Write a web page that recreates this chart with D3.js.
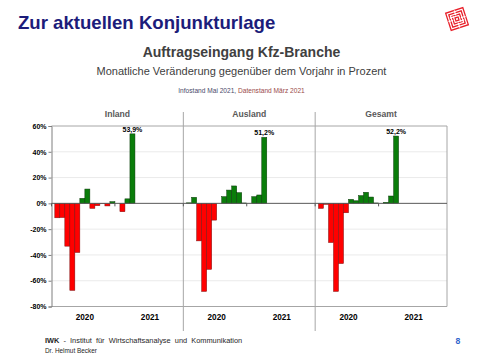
<!DOCTYPE html>
<html><head><meta charset="utf-8">
<script src="https://cdn.jsdelivr.net/npm/d3@7/dist/d3.min.js"></script>
<style>
html,body{margin:0;padding:0;background:#fff;}
svg{display:block;}
text{font-family:Arial,"Liberation Sans",sans-serif;}
</style></head>
<body>
<svg id="chart" width="480" height="360"></svg>
<script>
// ---- data ----
const panels = ["Inland", "Ausland", "Gesamt"];
const months = ["2020-01","2020-02","2020-03","2020-04","2020-05","2020-06","2020-07","2020-08","2020-09","2020-10","2020-11","2020-12","2021-01","2021-02","2021-03"];
const inland  = [-11.2, -11.0, -33.2, -67.5, -38.1, 3.9, 11.1, -3.9, -1.8, -0.3, -2.0, 1.3, -6.5, 3.5, 53.9];
const ausland = [0.4, 4.7, -29.1, -68.3, -51.2, -13.0, 0.0, 5.2, 10.3, 13.5, 8.3, 0.3, 5.2, 6.5, 51.2];
const gesamt  = [-3.9, -0.8, -30.4, -68.3, -46.7, -7.3, 3.1, 2.0, 6.0, 8.6, 4.9, 0.3, 0.8, 5.7, 52.2];
const years = ["2020", "2021"];
const yTicks = [60, 40, 20, 0, -20, -40, -60, -80];
const gridTicks = [40, 20, -20, -40, -60];

const seriesByPanel = [inland, ausland, gesamt];
// axis slots: 12 months of 2020, an empty separator slot, 12 months of 2021
const slots = [];
years.forEach((y, i) => {
  for (let m = 1; m <= 12; m++) slots.push(y + "-" + String(m).padStart(2, "0"));
  if (i === 0) slots.push("gap");
});

const svg = d3.select("#chart");

// ---- header ----
svg.append("text").attr("x", 18).attr("y", 29)
  .attr("font-size", 18.6).attr("font-weight", "bold").attr("fill", "#1c1c7a")
  .text("Zur aktuellen Konjunkturlage");

// logo
const logo = svg.append("g").attr("transform", "translate(457,19) rotate(-18)");
[9, 6.5, 4, 1.6].forEach(s => {
  logo.append("rect").attr("x", -s).attr("y", -s).attr("width", 2 * s).attr("height", 2 * s)
    .attr("fill", "none").attr("stroke", "#e8202a").attr("stroke-width", 1.3);
});
logo.append("path").attr("d", "M-9,0H-4M4,0H9M0,-9V-4M0,4V9M-6.5,-3H-2M2,3H6.5")
  .attr("stroke", "#fff").attr("stroke-width", 1.2);

svg.append("text").attr("x", 241.5).attr("y", 57).attr("text-anchor", "middle")
  .attr("font-family", "Lato, 'Open Sans', sans-serif").attr("font-weight", "bold")
  .attr("font-size", 14).attr("fill", "#404040").text("Auftragseingang Kfz-Branche");
svg.append("text").attr("x", 241.5).attr("y", 74.5).attr("text-anchor", "middle")
  .attr("font-family", "Lato, 'Open Sans', sans-serif")
  .attr("font-size", 11).attr("fill", "#404040")
  .text("Monatliche Veränderung gegenüber dem Vorjahr in Prozent");
const info = svg.append("text").attr("x", 241.5).attr("y", 92.5).attr("text-anchor", "middle")
  .attr("font-size", 6.6);
info.append("tspan").attr("fill", "#4a4a6a").text("Infostand Mai 2021, ");
info.append("tspan").attr("fill", "#9a4a4a").text("Datenstand März 2021");

// ---- chart frame ----
const L = 51.5, R = 447, T = 126, B = 306.5;
const PW = (R - L) / panels.length;
const y = d3.scaleLinear().domain([-80, 60]).range([B, T]);
const panelX = d3.scaleBand().domain(panels).range([L, R]);
const x = d3.scaleBand().domain(slots).range([0, PW]).paddingInner(0).paddingOuter(0.66);

// grid lines
svg.append("g").selectAll("line").data(gridTicks).join("line")
  .attr("x1", L).attr("x2", R).attr("y1", d => y(d)).attr("y2", d => y(d))
  .attr("stroke", "#e4e4e4").attr("stroke-width", 0.8);
svg.append("g").selectAll("line").data([60, -80]).join("line")
  .attr("x1", L).attr("x2", R).attr("y1", d => y(d)).attr("y2", d => y(d))
  .attr("stroke", "#a6a6a6").attr("stroke-width", 1);
svg.append("line").attr("x1", R).attr("x2", R).attr("y1", T).attr("y2", B)
  .attr("stroke", "#a6a6a6");

// panel separators
svg.append("g").selectAll("line").data(panels.slice(1)).join("line")
  .attr("x1", d => panelX(d)).attr("x2", d => panelX(d))
  .attr("y1", 112).attr("y2", 331).attr("stroke", "#a6a6a6").attr("stroke-width", 1);

// y axis
const yAxis = svg.append("g").attr("transform", `translate(${L},0)`)
  .call(d3.axisLeft(y).tickValues(yTicks).tickSize(3).tickPadding(2).tickFormat(d => d + "%"));
yAxis.select(".domain").attr("stroke", "#7f7f7f");
yAxis.selectAll(".tick line").attr("stroke", "#7f7f7f");
yAxis.selectAll("text").attr("font-size", 7).attr("font-weight", "bold").attr("fill", "#000")
  .attr("font-family", "Arial, 'Liberation Sans', sans-serif");

// panels
panels.forEach((p, pi) => {
  const g = svg.append("g").attr("transform", `translate(${panelX(p)},0)`);
  const vals = seriesByPanel[pi];
  const data = months.map((m, i) => ({ m, v: vals[i] }));

  g.append("text").attr("x", PW / 2).attr("y", 117).attr("text-anchor", "middle")
    .attr("font-size", 8.6).attr("font-weight", "bold").attr("fill", "#595959").text(p);

  g.selectAll("rect.bar").data(data).join("rect").attr("class", "bar")
    .attr("x", d => x(d.m)).attr("width", x.bandwidth())
    .attr("y", d => y(Math.max(0, d.v)))
    .attr("height", d => Math.abs(y(d.v) - y(0)))
    .attr("fill", d => d.v < 0 ? "#ff0000" : "#0a7d0a")
    .attr("stroke", d => d.v < 0 ? "#7a1010" : "#0c3a0c").attr("stroke-width", 0.5);

  // zero line
  g.append("line").attr("x1", 0).attr("x2", PW).attr("y1", y(0)).attr("y2", y(0))
    .attr("stroke", "#595959").attr("stroke-width", 1);
  // year boundary ticks
  g.selectAll("line.yt").data(["2020-01", "gap"]).join("line").attr("class", "yt")
    .attr("x1", d => d === "2020-01" ? 0 : x(d)).attr("x2", d => d === "2020-01" ? 0 : x(d))
    .attr("y1", y(0)).attr("y2", y(0) + 3).attr("stroke", "#595959");

  // value label on last bar
  const last = data[data.length - 1];
  g.append("text").attr("x", x(last.m) + x.bandwidth() / 2).attr("y", y(last.v) - 2)
    .attr("text-anchor", "middle").attr("font-size", 7).attr("font-weight", "bold")
    .attr("fill", "#000").text(d3.format(".1f")(last.v).replace(".", ",") + "%");

  // year labels
  years.forEach(yr => {
    const first = x(yr + "-01"), end = x(yr + "-12") + x.bandwidth();
    g.append("text").attr("x", (first + end) / 2).attr("y", 320).attr("text-anchor", "middle")
      .attr("font-size", 8.2).attr("font-weight", "bold").attr("fill", "#000").text(yr);
  });
});

// ---- footer ----
const f1 = svg.append("text").attr("x", 45).attr("y", 343).attr("font-size", 7.4)
  .attr("fill", "#262626").style("white-space", "pre");
f1.append("tspan").attr("font-weight", "bold").text("IWK");
f1.append("tspan").text("  -  Institut  für  Wirtschaftsanalyse  und  Kommunikation");
svg.append("text").attr("x", 45).attr("y", 352.5).attr("font-size", 6.4)
  .attr("fill", "#262626").text("Dr. Helmut Becker");
svg.append("text").attr("x", 458).attr("y", 344).attr("text-anchor", "middle")
  .attr("font-size", 8.6).attr("font-weight", "bold").attr("fill", "#3366cc").text("8");
</script>
</body></html>
